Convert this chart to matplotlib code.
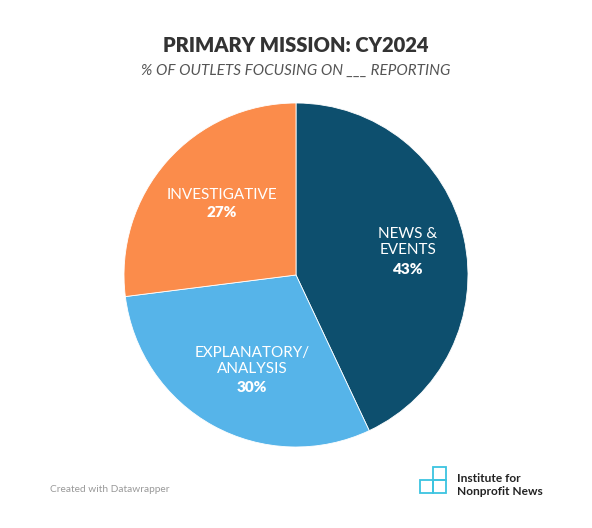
import matplotlib.pyplot as plt
from matplotlib.patches import Rectangle

# === DATOS ===
categorias = ["NEWS &\nEVENTS", "EXPLANATORY/\nANALYSIS", "INVESTIGATIVE"]
valores = [43, 30, 27]
colores = ["#0d4f6e", "#56b4e9", "#fb8c4b"]

W, H = 592, 528
fig = plt.figure(figsize=(W / 100, H / 100), dpi=100)
fig.patch.set_facecolor("white")

def fx(px):
    return px / W

def fy(py):
    return 1 - py / H

# === PIE ===
cx, cy, r = 296, 275, 172
ax = fig.add_axes([fx(cx - r), fy(cy + r), 2 * r / W, 2 * r / H])
ax.pie(valores, colors=colores, startangle=90, counterclock=False,
       wedgeprops=dict(edgecolor="white", linewidth=0.6))
ax.set_xlim(-1, 1)
ax.set_ylim(-1, 1)
ax.set_aspect("auto")
ax.axis("off")

# === ETIQUETAS ===
fuente = "Lato"
pos = [(408, 242, 270), (252, 361, 388), (222, 195, 213)]
for (x, y_lbl, y_pct), cat, v in zip(pos, categorias, valores):
    fig.text(fx(x), fy(y_lbl), cat, ha="center", va="center", color="white",
             fontsize=11, family=fuente, linespacing=1.1)
    fig.text(fx(x), fy(y_pct), f"{v}%", ha="center", va="center", color="white",
             fontsize=11, family=fuente, fontweight="heavy")

# === TITULOS ===
fig.text(0.5, fy(45), "PRIMARY MISSION: CY2024", ha="center", va="center",
         fontsize=14.5, fontweight="heavy", color="#333333", family=fuente)
fig.text(0.5, fy(71), "% OF OUTLETS FOCUSING ON ___ REPORTING", ha="center", va="center",
         fontsize=11, style="italic", color="#555555", family=fuente)

# === PIE DE PAGINA ===
fig.text(fx(50), fy(490), "Created with Datawrapper", ha="left", va="center",
         fontsize=7.3, color="#999999", family=fuente)

# logo
logo_ax = fig.add_axes([0, 0, 1, 1], facecolor="none")
logo_ax.set_xlim(0, W)
logo_ax.set_ylim(H, 0)
logo_ax.axis("off")
c_logo = "#3cc4e0"
s = 13
for (x0, y0) in [(433, 467), (420, 480), (433, 480)]:
    logo_ax.add_patch(Rectangle((x0, y0), s, s, fill=False, edgecolor=c_logo, linewidth=1.3))
fig.text(fx(457), fy(485), "Institute for\nNonprofit News", ha="left", va="center",
         fontsize=8.6, fontweight="bold", color="#222222", family=fuente, linespacing=1.2)

fig.savefig("out.png", dpi=100, facecolor="white")
